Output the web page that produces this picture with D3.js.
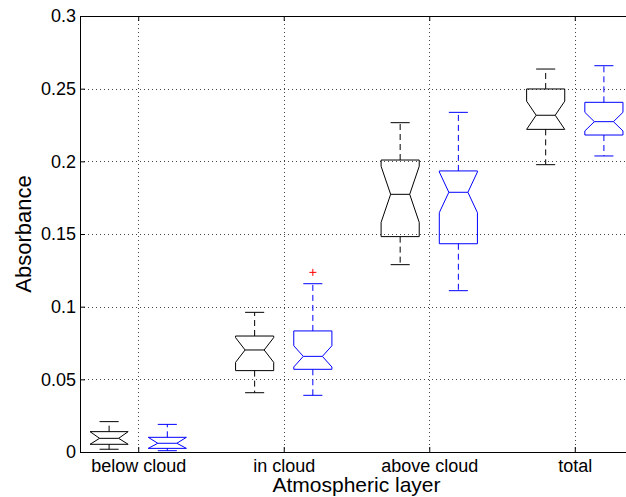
<!DOCTYPE html>
<html>
<head>
<meta charset="utf-8">
<script src="https://cdn.jsdelivr.net/npm/d3@7"></script>
<style>
  html, body { margin: 0; padding: 0; background: #fff; }
  svg { display: block; }
  text { font-family: "Liberation Sans", Arial, Helvetica, sans-serif; fill: #000; }
</style>
</head>
<body>
<svg id="chart" width="626" height="497"></svg>
<script>
// ---- data ----
const categories = ["below cloud", "in cloud", "above cloud", "total"];
const yTicks = [0, 0.05, 0.1, 0.15, 0.2, 0.25, 0.3];
const yTickLabels = ["0", "0.05", "0.1", "0.15", "0.2", "0.25", "0.3"];

// black series
const blackLower  = [0.0019, 0.0408, 0.1289, 0.1977];
const blackQ1     = [0.0053, 0.0560, 0.1482, 0.2220];
const blackMedian = [0.0094, 0.0702, 0.1773, 0.2317];
const blackQ3     = [0.0140, 0.0798, 0.2009, 0.2498];
const blackUpper  = [0.0209, 0.0961, 0.2266, 0.2635];
const blackNotch  = [0.0046, 0.0085, 0.0193, 0.0097];
const blackOutliers = [];

// blue series
const blueLower  = [0.0009, 0.0390, 0.1110, 0.2037];
const blueQ1     = [0.0025, 0.0569, 0.1433, 0.2181];
const blueMedian = [0.0060, 0.0658, 0.1787, 0.2273];
const blueQ3     = [0.0101, 0.0833, 0.1934, 0.2406];
const blueUpper  = [0.0190, 0.1158, 0.2337, 0.2658];
const blueNotch  = [0.0041, 0.0073, 0.0140, 0.0064];
const blueOutliers = [{ cat: "in cloud", value: 0.1236 }];

const xLabel = "Atmospheric layer";
const yLabel = "Absorbance";

// ---- layout ----
const svg = d3.select("#chart");
svg.append("rect").attr("width", 626).attr("height", 497).attr("fill", "#fff");

const mLeft = 80, mRight = 633, mTop = 16, mBottom = 452;
const x = d3.scaleLinear().domain([0.6, 4.4]).range([mLeft, mRight]);
const y = d3.scaleLinear().domain([0, 0.3]).range([mBottom, mTop]);
const catPos = d => categories.indexOf(d) + 1;

const g = svg.append("g");

// grid
const gridColor = "#444";
g.selectAll("line.hgrid").data(yTicks.filter(t => t > 0 && t < 0.3)).enter()
  .append("line")
  .attr("x1", mLeft).attr("x2", mRight)
  .attr("y1", d => Math.round(y(d)) + 0.5).attr("y2", d => Math.round(y(d)) + 0.5)
  .attr("stroke", gridColor).attr("stroke-width", 1).attr("stroke-dasharray", "1,3");
g.selectAll("line.vgrid").data(categories).enter()
  .append("line")
  .attr("x1", d => Math.round(x(catPos(d))) + 0.5).attr("x2", d => Math.round(x(catPos(d))) + 0.5)
  .attr("y1", mTop).attr("y2", mBottom)
  .attr("stroke", gridColor).attr("stroke-width", 1).attr("stroke-dasharray", "1,3");

// boxes
const offset = 0.2, halfW = 0.131;
function drawSeries(color, dx, lower, q1, med, q3, upper, notch, outliers) {
  categories.forEach((c, i) => {
    const cx = x(catPos(c) + dx);
    const bw = x(catPos(c) + halfW) - x(catPos(c));
    const nw = bw / 2;
    const xl = cx - bw, xr = cx + bw;
    const yq1 = y(q1[i]), yq3 = y(q3[i]), ym = y(med[i]);
    const yHi = y(Math.min(q3[i], med[i] + notch[i]));
    const yLo = y(Math.max(q1[i], med[i] - notch[i]));
    const pts = [
      [xl, yq3], [xl, yHi], [xl + nw, ym], [xl, yLo], [xl, yq1],
      [xr, yq1], [xr, yLo], [xr - nw, ym], [xr, yHi], [xr, yq3]
    ];
    g.append("path")
      .attr("d", d3.line()(pts) + "Z")
      .attr("fill", "none").attr("stroke", color).attr("stroke-width", 1);
    g.append("line")
      .attr("x1", xl + nw).attr("x2", xr - nw).attr("y1", ym).attr("y2", ym)
      .attr("stroke", color).attr("stroke-width", 1);
    // whiskers
    [[q3[i], upper[i]], [q1[i], lower[i]]].forEach(([a, b]) => {
      g.append("line")
        .attr("x1", cx).attr("x2", cx).attr("y1", y(a)).attr("y2", y(b))
        .attr("stroke", color).attr("stroke-width", 1).attr("stroke-dasharray", "6,4");
      g.append("line")
        .attr("x1", cx - nw).attr("x2", cx + nw).attr("y1", y(b)).attr("y2", y(b))
        .attr("stroke", color).attr("stroke-width", 1);
    });
  });
  outliers.forEach(o => {
    const ox = x(catPos(o.cat) + dx), oy = y(o.value);
    g.append("path")
      .attr("d", `M${ox - 3.5},${oy}H${ox + 3.5}M${ox},${oy - 3.5}V${oy + 3.5}`)
      .attr("stroke", "#ff0000").attr("stroke-width", 1).attr("fill", "none");
  });
}
drawSeries("#000000", -offset, blackLower, blackQ1, blackMedian, blackQ3, blackUpper, blackNotch, blackOutliers);
drawSeries("#0000ff", offset, blueLower, blueQ1, blueMedian, blueQ3, blueUpper, blueNotch, blueOutliers);

// axes (MATLAB style: inward ticks, full box)
const tickLen = 5;
const xAxisB = d3.axisBottom(x).tickValues(categories.map(catPos))
  .tickFormat(d => categories[d - 1]).tickSizeInner(-tickLen).tickSizeOuter(0).tickPadding(7);
const gxb = svg.append("g").attr("transform", `translate(0,${mBottom})`).call(xAxisB);
const xAxisT = d3.axisTop(x).tickValues(categories.map(catPos))
  .tickFormat("").tickSizeInner(-tickLen).tickSizeOuter(0);
const gxt = svg.append("g").attr("transform", `translate(0,${mTop})`).call(xAxisT);
const yAxisL = d3.axisLeft(y).tickValues(yTicks)
  .tickFormat((d, i) => yTickLabels[i]).tickSizeInner(-tickLen).tickSizeOuter(0).tickPadding(4);
const gyl = svg.append("g").attr("transform", `translate(${mLeft},0)`).call(yAxisL);
const yAxisR = d3.axisRight(y).tickValues(yTicks).tickFormat("").tickSizeInner(-tickLen).tickSizeOuter(0);
const gyr = svg.append("g").attr("transform", `translate(${mRight},0)`).call(yAxisR);

[gxb, gxt, gyl, gyr].forEach(a => {
  a.selectAll(".domain").attr("stroke", "#000").attr("stroke-width", 1);
  a.selectAll(".tick line").attr("stroke", "#000");
  a.selectAll("text").attr("font-family", "Liberation Sans, Arial, sans-serif").attr("fill", "#000");
});
gxb.selectAll("text").attr("font-size", 18).attr("dy", "0.71em");
gyl.selectAll("text").attr("font-size", 18);

// axis labels
svg.append("text")
  .attr("x", (mLeft + mRight) / 2).attr("y", 492)
  .attr("text-anchor", "middle").attr("font-size", 21)
  .text(xLabel);
svg.append("text")
  .attr("transform", `translate(31,${(mTop + mBottom) / 2}) rotate(-90)`)
  .attr("text-anchor", "middle").attr("font-size", 22)
  .text(yLabel);
</script>
</body>
</html>
